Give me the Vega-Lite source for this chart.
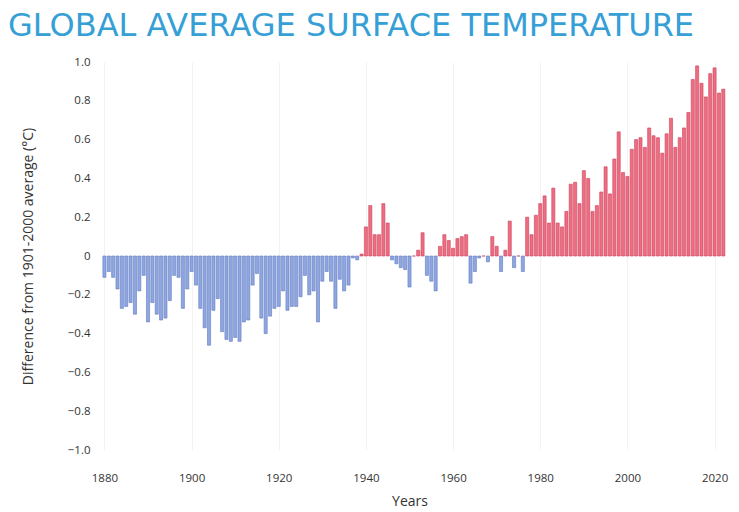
{
  "$schema": "https://vega.github.io/schema/vega-lite/v6.json",
  "width": 655,
  "height": 388,
  "autosize": "none",
  "padding": {"left": 82, "top": 62, "right": 2, "bottom": 62},
  "background": "white",
  "config": {"view": {"stroke": null}, "font": "Open Sans"},
  "title": {
    "text": "GLOBAL AVERAGE SURFACE TEMPERATURE",
    "anchor": "start",
    "frame": "group",
    "dx": -74,
    "offset": 13,
    "fontSize": 32,
    "fontWeight": "normal",
    "font": "DejaVu Sans",
    "color": "#36a0d6"
  },
  "data": {
    "values": [
      {"year": 1880, "anomaly": -0.11}, {"year": 1881, "anomaly": -0.08}, {"year": 1882, "anomaly": -0.11}, {"year": 1883, "anomaly": -0.17},
      {"year": 1884, "anomaly": -0.27}, {"year": 1885, "anomaly": -0.26}, {"year": 1886, "anomaly": -0.24}, {"year": 1887, "anomaly": -0.30},
      {"year": 1888, "anomaly": -0.18}, {"year": 1889, "anomaly": -0.10}, {"year": 1890, "anomaly": -0.34}, {"year": 1891, "anomaly": -0.24},
      {"year": 1892, "anomaly": -0.30}, {"year": 1893, "anomaly": -0.33}, {"year": 1894, "anomaly": -0.32}, {"year": 1895, "anomaly": -0.23},
      {"year": 1896, "anomaly": -0.10}, {"year": 1897, "anomaly": -0.11}, {"year": 1898, "anomaly": -0.27}, {"year": 1899, "anomaly": -0.17},
      {"year": 1900, "anomaly": -0.08}, {"year": 1901, "anomaly": -0.15}, {"year": 1902, "anomaly": -0.27}, {"year": 1903, "anomaly": -0.37},
      {"year": 1904, "anomaly": -0.46}, {"year": 1905, "anomaly": -0.28}, {"year": 1906, "anomaly": -0.22}, {"year": 1907, "anomaly": -0.39},
      {"year": 1908, "anomaly": -0.43}, {"year": 1909, "anomaly": -0.44}, {"year": 1910, "anomaly": -0.42}, {"year": 1911, "anomaly": -0.44},
      {"year": 1912, "anomaly": -0.34}, {"year": 1913, "anomaly": -0.33}, {"year": 1914, "anomaly": -0.15}, {"year": 1915, "anomaly": -0.09},
      {"year": 1916, "anomaly": -0.32}, {"year": 1917, "anomaly": -0.40}, {"year": 1918, "anomaly": -0.31}, {"year": 1919, "anomaly": -0.27},
      {"year": 1920, "anomaly": -0.26}, {"year": 1921, "anomaly": -0.18}, {"year": 1922, "anomaly": -0.28}, {"year": 1923, "anomaly": -0.26},
      {"year": 1924, "anomaly": -0.26}, {"year": 1925, "anomaly": -0.21}, {"year": 1926, "anomaly": -0.10}, {"year": 1927, "anomaly": -0.20},
      {"year": 1928, "anomaly": -0.18}, {"year": 1929, "anomaly": -0.34}, {"year": 1930, "anomaly": -0.13}, {"year": 1931, "anomaly": -0.08},
      {"year": 1932, "anomaly": -0.13}, {"year": 1933, "anomaly": -0.27}, {"year": 1934, "anomaly": -0.12}, {"year": 1935, "anomaly": -0.18},
      {"year": 1936, "anomaly": -0.15}, {"year": 1937, "anomaly": -0.01}, {"year": 1938, "anomaly": -0.02}, {"year": 1939, "anomaly": 0.01},
      {"year": 1940, "anomaly": 0.15}, {"year": 1941, "anomaly": 0.26}, {"year": 1942, "anomaly": 0.11}, {"year": 1943, "anomaly": 0.11},
      {"year": 1944, "anomaly": 0.27}, {"year": 1945, "anomaly": 0.17}, {"year": 1946, "anomaly": -0.02}, {"year": 1947, "anomaly": -0.04},
      {"year": 1948, "anomaly": -0.06}, {"year": 1949, "anomaly": -0.07}, {"year": 1950, "anomaly": -0.16}, {"year": 1951, "anomaly": 0.0},
      {"year": 1952, "anomaly": 0.03}, {"year": 1953, "anomaly": 0.12}, {"year": 1954, "anomaly": -0.10}, {"year": 1955, "anomaly": -0.13},
      {"year": 1956, "anomaly": -0.18}, {"year": 1957, "anomaly": 0.05}, {"year": 1958, "anomaly": 0.11}, {"year": 1959, "anomaly": 0.08},
      {"year": 1960, "anomaly": 0.04}, {"year": 1961, "anomaly": 0.09}, {"year": 1962, "anomaly": 0.10}, {"year": 1963, "anomaly": 0.11},
      {"year": 1964, "anomaly": -0.14}, {"year": 1965, "anomaly": -0.08}, {"year": 1966, "anomaly": -0.01}, {"year": 1967, "anomaly": 0.0},
      {"year": 1968, "anomaly": -0.03}, {"year": 1969, "anomaly": 0.10}, {"year": 1970, "anomaly": 0.05}, {"year": 1971, "anomaly": -0.08},
      {"year": 1972, "anomaly": 0.03}, {"year": 1973, "anomaly": 0.18}, {"year": 1974, "anomaly": -0.06}, {"year": 1975, "anomaly": 0.0},
      {"year": 1976, "anomaly": -0.08}, {"year": 1977, "anomaly": 0.20}, {"year": 1978, "anomaly": 0.11}, {"year": 1979, "anomaly": 0.21},
      {"year": 1980, "anomaly": 0.27}, {"year": 1981, "anomaly": 0.31}, {"year": 1982, "anomaly": 0.17}, {"year": 1983, "anomaly": 0.35},
      {"year": 1984, "anomaly": 0.17}, {"year": 1985, "anomaly": 0.15}, {"year": 1986, "anomaly": 0.23}, {"year": 1987, "anomaly": 0.37},
      {"year": 1988, "anomaly": 0.38}, {"year": 1989, "anomaly": 0.27}, {"year": 1990, "anomaly": 0.44}, {"year": 1991, "anomaly": 0.40},
      {"year": 1992, "anomaly": 0.23}, {"year": 1993, "anomaly": 0.26}, {"year": 1994, "anomaly": 0.33}, {"year": 1995, "anomaly": 0.46},
      {"year": 1996, "anomaly": 0.32}, {"year": 1997, "anomaly": 0.50}, {"year": 1998, "anomaly": 0.64}, {"year": 1999, "anomaly": 0.43},
      {"year": 2000, "anomaly": 0.41}, {"year": 2001, "anomaly": 0.55}, {"year": 2002, "anomaly": 0.60}, {"year": 2003, "anomaly": 0.61},
      {"year": 2004, "anomaly": 0.56}, {"year": 2005, "anomaly": 0.66}, {"year": 2006, "anomaly": 0.62}, {"year": 2007, "anomaly": 0.61},
      {"year": 2008, "anomaly": 0.53}, {"year": 2009, "anomaly": 0.63}, {"year": 2010, "anomaly": 0.71}, {"year": 2011, "anomaly": 0.56},
      {"year": 2012, "anomaly": 0.61}, {"year": 2013, "anomaly": 0.66}, {"year": 2014, "anomaly": 0.74}, {"year": 2015, "anomaly": 0.91},
      {"year": 2016, "anomaly": 0.98}, {"year": 2017, "anomaly": 0.89}, {"year": 2018, "anomaly": 0.82}, {"year": 2019, "anomaly": 0.94},
      {"year": 2020, "anomaly": 0.97}, {"year": 2021, "anomaly": 0.84}, {"year": 2022, "anomaly": 0.86}
    ]
  },
  "mark": {"type": "bar", "width": 3.1, "strokeWidth": 0.6},
  "encoding": {
    "x": {
      "field": "year",
      "type": "quantitative",
      "scale": {"domain": [1876, 2024], "nice": false, "zero": false},
      "axis": {
        "values": [1880, 1900, 1920, 1940, 1960, 1980, 2000, 2020],
        "format": "d",
        "title": "Years",
        "titleFontSize": 14,
        "titleFontWeight": "normal",
        "titleColor": "#333",
        "titlePadding": 11,
        "labelFontSize": 11.5,
        "labelColor": "#333",
        "labelPadding": 22,
        "domain": false,
        "ticks": false,
        "grid": true,
        "gridColor": "#f2f2f2"
      }
    },
    "y": {
      "field": "anomaly",
      "type": "quantitative",
      "scale": {"domain": [-1, 1], "nice": false},
      "axis": {
        "values": [-1, -0.8, -0.6, -0.4, -0.2, 0, 0.2, 0.4, 0.6, 0.8, 1],
        "labelExpr": "datum.value == 0 ? '0' : format(datum.value, '.1f')",
        "title": "Difference from 1901-2000 average (°C)",
        "titleFontSize": 14,
        "titleFontWeight": "normal",
        "titleColor": "#333",
        "titlePadding": 32,
        "labelFontSize": 11.5,
        "labelColor": "#333",
        "labelPadding": -8,
        "domain": false,
        "ticks": false,
        "grid": false
      }
    },
    "color": {
      "condition": {"test": "datum.anomaly < 0", "value": "#8fa7e0"},
      "value": "#ef6d80"
    },
    "stroke": {
      "condition": {"test": "datum.anomaly < 0", "value": "#6079c0"},
      "value": "#c9425c"
    }
  }
}
